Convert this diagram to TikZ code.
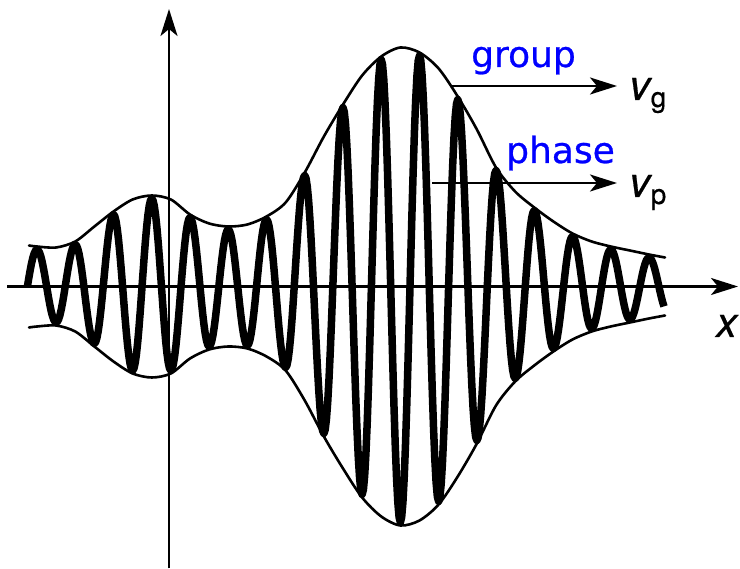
\documentclass[tikz,border=0pt]{standalone}
\usepackage{fontspec}
\newfontfamily\lblfont[FakeBold=0.7]{DejaVu Sans}
\newfontfamily\varfont[FakeBold=0.5]{TeX Gyre Heros}
\usetikzlibrary{arrows.meta}
\begin{document}
\begin{tikzpicture}[x=1pt,y=1pt,
  axis/.style={line width=2.5pt, -{Stealth[length=27pt,width=17pt,inset=7pt]}},
  env/.style={line width=2.6pt, line cap=round},
  carrier/.style={line width=7.5pt, line join=round},
  vel/.style={line width=2.5pt, -{Stealth[length=27pt,width=17pt,inset=7pt]}},
  word/.style={text=blue, font=\lblfont\fontsize{36}{40}\selectfont, inner sep=0pt, anchor=base west},
  var/.style={font=\varfont\itshape\fontsize{42}{46}\selectfont, inner sep=0pt, anchor=base west}]
\newcommand\vsub[1]{v\kern0.5pt{\upshape\fontsize{28}{32}\selectfont\raisebox{-7pt}{#1}}}
\useasboundingbox (0,-282.5) rectangle (740,286.5);
% axes
\coordinate (xL) at (7,0);
\coordinate (xR) at (738,0);
\coordinate (yB) at (169,-282);
\coordinate (yT) at (169,277.5);
\draw[axis] (xL) -- (xR);
\draw[axis] (yB) -- (yT);
% envelope
\foreach \s in {1,-1}{
\begin{scope}[yscale=\s]
\draw[env] plot[smooth, tension=0.5] coordinates {(29,41) (37,40) (56.125,39) (75.25,45) (94.375,60) (113.5,75) (132.625,87) (151.75,91) (170.875,87) (190,72) (209.125,63) (228.25,60) (247.375,62) (266.5,70) (285.625,84) (304.75,114) (323.875,150) (343,182) (362.125,211) (381.25,230) (400.375,239) (419.5,234) (438.625,218) (457.75,190) (476.875,157) (496,119) (515.125,95) (534.25,79) (553.375,65) (572.5,53) (591.625,45) (610.75,40) (629.875,36) (649,32) (665,29)};
\end{scope}}
% carrier
\draw[carrier] (27.4,0) -- plot[domain=27.4:37, samples=8, variable=\t] ({\t},{37*sin(90*(\t-27.4)/9.6)})
 \foreach \xa/\ya/\xb/\yb in {37/37/56.125/-36, 56.125/-36/75.25/42, 75.25/42/94.375/-57, 94.375/-57/113.5/72, 113.5/72/132.625/-84, 132.625/-84/151.75/88, 151.75/88/170.875/-84, 170.875/-84/190/69, 190/69/209.125/-60, 209.125/-60/228.25/57, 228.25/57/247.375/-59, 247.375/-59/266.5/67, 266.5/67/285.625/-81, 285.625/-81/304.75/111, 304.75/111/323.875/-147, 323.875/-147/343/179, 343/179/362.125/-208, 362.125/-208/381.25/227, 381.25/227/400.375/-236, 400.375/-236/419.5/231, 419.5/231/438.625/-215, 438.625/-215/457.75/187, 457.75/187/476.875/-154, 476.875/-154/496/116, 496/116/515.125/-92, 515.125/-92/534.25/76, 534.25/76/553.375/-62, 553.375/-62/572.5/50, 572.5/50/591.625/-42, 591.625/-42/610.75/37, 610.75/37/629.875/-33, 629.875/-33/649/29}
 { -- plot[domain=\xa:\xb, samples=16, variable=\t] ({\t},{((\ya)+(\yb))/2+((\ya)-(\yb))/2*cos(180*(\t-\xa)/(\xb-\xa))}) }
 -- plot[domain=649:664, samples=12, variable=\t] ({\t},{(29+(-26))/2+(29-(-26))/2*cos(180*(\t-649)/(668.125-649))});
% velocity arrows and labels
\node[word] (grp) at (471,219.5) {group};
\node[word] (phs) at (506,123.5) {phase};
\coordinate (gS) at (452,200.5);
\coordinate (gE) at (617,200.5);
\draw[vel] (gS) -- (gE);
\coordinate (pS) at (432,103.5);
\coordinate (pE) at (617,103.5);
\draw[vel] (pS) -- (pE);
\node[var] (vg) at (629,186.5) {\vsub{g}};
\node[var] (vp) at (629,89.5) {\vsub{p}};
\node[var] (xlab) at (716,-50.5) {x};
\end{tikzpicture}
\end{document}
